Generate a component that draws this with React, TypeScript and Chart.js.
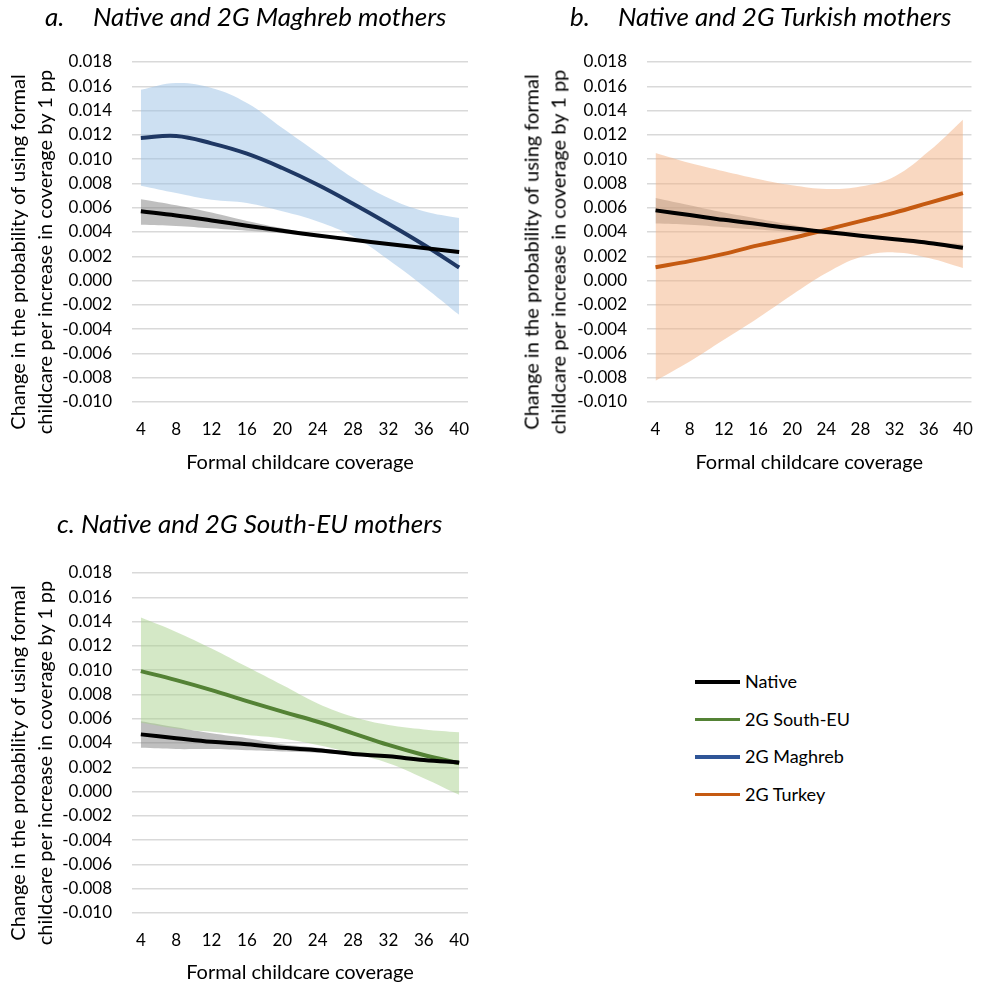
import React, { useEffect, useRef } from "react";
import { Chart, registerables } from "chart.js";

Chart.register(...registerables);

const FONT = "Lato, 'Open Sans', sans-serif";

// x categories (formal childcare coverage) and tick values
const coverage = [4, 8, 12, 16, 20, 24, 28, 32, 36, 40];
const xTickValues = [4, 8, 12, 16, 20, 24, 28, 32, 36, 40];
const yTickValues = [-0.01, -0.008, -0.006, -0.004, -0.002, 0, 0.002, 0.004, 0.006, 0.008, 0.01, 0.012, 0.014, 0.016, 0.018];

// Panel a: Native and 2G Maghreb
const nativeA = [0.0057, 0.00536, 0.00495, 0.00452, 0.0041, 0.00372, 0.00336, 0.00301, 0.00268, 0.00235];
const nativeAUpper = [0.0067, 0.0062, 0.0056, 0.0049, 0.0043, 0.0038, 0.0034, 0.0031, 0.0028, 0.0025];
const nativeALower = [0.0046, 0.0045, 0.0043, 0.0041, 0.0039, 0.0036, 0.0033, 0.0029, 0.0026, 0.0022];
const maghreb = [0.01174, 0.0119, 0.0113, 0.01045, 0.00927, 0.00789, 0.00633, 0.00468, 0.00295, 0.00108];
const maghrebUpper = [0.01572, 0.01627, 0.01586, 0.01462, 0.01256, 0.0105, 0.00844, 0.0068, 0.00571, 0.00515];
const maghrebLower = [0.00781, 0.00721, 0.00666, 0.00639, 0.0057, 0.00487, 0.00364, 0.00171, -0.00048, -0.00282];

// Panel b: Native and 2G Turkish
const nativeB = [0.00578, 0.0054, 0.005, 0.00465, 0.0043, 0.004, 0.0037, 0.0034, 0.0031, 0.0027];
const nativeBUpper = [0.0068, 0.0062, 0.0056, 0.0051, 0.0046, 0.0041, 0.0038, 0.0035, 0.0032, 0.003];
const nativeBLower = [0.0047, 0.0046, 0.0044, 0.0042, 0.004, 0.0038, 0.0036, 0.0033, 0.003, 0.0025];
const turkey = [0.0011, 0.0016, 0.0022, 0.0029, 0.0035, 0.0042, 0.0049, 0.0056, 0.0064, 0.0072];
const turkeyUpper = [0.0105, 0.00968, 0.009, 0.00836, 0.00784, 0.00754, 0.00775, 0.00858, 0.01064, 0.01325];
const turkeyLower = [-0.00825, -0.00666, -0.00488, -0.00309, -0.00117, 0.00062, 0.00194, 0.00232, 0.00186, 0.00103];

// Panel c: Native and 2G South-EU
const nativeC = [0.00471, 0.0044, 0.0041, 0.0039, 0.0036, 0.0034, 0.0031, 0.0029, 0.0026, 0.0024];
const nativeCUpper = [0.0058, 0.0053, 0.0048, 0.0044, 0.0039, 0.0036, 0.0032, 0.0029, 0.0027, 0.0025];
const nativeCLower = [0.0036, 0.0035, 0.0035, 0.0034, 0.0033, 0.0032, 0.003, 0.0028, 0.0025, 0.0022];
const southEU = [0.00992, 0.00918, 0.00836, 0.00745, 0.00658, 0.00575, 0.0048, 0.00384, 0.00301, 0.00233];
const southEUUpper = [0.01433, 0.01315, 0.01178, 0.01027, 0.00877, 0.00726, 0.00616, 0.00548, 0.00512, 0.00488];
const southEULower = [0.00567, 0.0052, 0.00493, 0.00466, 0.00438, 0.00384, 0.00315, 0.00233, 0.0011, -0.00027];

const yTitleLines = ["Change in the probability of using formal", "childcare per increase in coverage by 1 pp"];
const xTitle = "Formal childcare coverage";

const legendItems = [
  { label: "Native", color: "#000000" },
  { label: "2G South-EU", color: "#548235" },
  { label: "2G Maghreb", color: "#2F5597" },
  { label: "2G Turkey", color: "#C55A11" },
];

type PanelProps = {
  left: number; top: number; width: number; height: number;
  padTop: number; padBottom: number; padRight: number;
  yAxisWidth: number; xAxisHeight: number; xTitlePadBottom: number;
  native: number[]; nativeUp: number[]; nativeLow: number[];
  group: number[]; groupUp: number[]; groupLow: number[];
  groupLabel: string; lineColor: string; bandColor: string;
};

function Panel(p: PanelProps) {
  const ref = useRef<HTMLCanvasElement>(null);
  useEffect(() => {
    if (!ref.current) return;
    const pts = (arr: number[]) => coverage.map((x, i) => ({ x, y: arr[i] }));
    const band = { borderWidth: 0, borderColor: "transparent", pointRadius: 0, tension: 0.4 };
    const chart = new Chart(ref.current, {
      type: "line",
      data: {
        datasets: [
          { label: "Native", data: pts(p.native), borderColor: "#000000", borderWidth: 4, pointRadius: 0, tension: 0.4, fill: false, order: 1 },
          { label: p.groupLabel, data: pts(p.group), borderColor: p.lineColor, borderWidth: 4, pointRadius: 0, tension: 0.4, fill: false, order: 2 },
          { label: "upper", data: pts(p.groupUp), ...band, backgroundColor: p.bandColor, fill: "+1", order: 3 },
          { label: "lower", data: pts(p.groupLow), ...band, fill: false, order: 3 },
          { label: "nupper", data: pts(p.nativeUp), ...band, backgroundColor: "rgba(128,128,128,0.5)", fill: "+1", order: 5 },
          { label: "nlower", data: pts(p.nativeLow), ...band, fill: false, order: 5 },
        ] as any,
      },
      options: {
        responsive: false,
        animation: false,
        layout: { padding: { top: p.padTop, bottom: p.padBottom, left: 0, right: p.padRight } },
        plugins: { legend: { display: false }, tooltip: { enabled: false }, title: { display: false } },
        scales: {
          x: {
            type: "linear",
            min: 3,
            max: 41,
            grid: { display: false, drawTicks: false },
            border: { display: false },
            afterBuildTicks: (s: any) => { s.ticks = xTickValues.map((v) => ({ value: v })); },
            afterFit: (s: any) => { s.height = p.xAxisHeight; },
            ticks: { font: { family: FONT, size: 17 }, color: "#000", padding: 17, maxRotation: 0, autoSkip: false, callback: (v: any) => String(v) },
            title: { display: true, text: xTitle, font: { family: FONT, size: 20 }, color: "#000", padding: { top: 0, bottom: p.xTitlePadBottom } },
          },
          y: {
            type: "linear",
            min: -0.01,
            max: 0.018,
            border: { display: false },
            grid: { color: "#d9d9d9", lineWidth: 1.5, drawTicks: false },
            afterBuildTicks: (s: any) => { s.ticks = yTickValues.map((v) => ({ value: v })); },
            afterFit: (s: any) => { s.width = p.yAxisWidth; },
            ticks: { font: { family: FONT, size: 17 }, color: "#000", padding: 20, callback: (v: any) => Number(v).toFixed(3) },
            title: { display: false },
          },
        },
      } as any,
    });
    return () => chart.destroy();
  }, []);
  return (
    <canvas
      ref={ref}
      width={p.width}
      height={p.height}
      style={{ position: "absolute", left: p.left, top: p.top, width: p.width, height: p.height }}
    />
  );
}

function YTitle({ cx, cy }: { cx: number; cy: number }) {
  return (
    <div
      style={{
        position: "absolute", left: cx, top: cy, transform: "translate(-50%,-50%) rotate(-90deg)",
        whiteSpace: "nowrap", textAlign: "center", lineHeight: "26.5px", fontSize: 20, fontFamily: FONT, color: "#000",
      }}
    >
      {yTitleLines[0]}
      <br />
      {yTitleLines[1]}
    </div>
  );
}

const titleStyle: React.CSSProperties = {
  position: "absolute", fontFamily: FONT, fontStyle: "italic", fontSize: 26, lineHeight: "26px", whiteSpace: "nowrap", color: "#000",
};

export default function App() {
  return (
    <div style={{ position: "absolute", left: 0, top: 0, width: 993, height: 985, overflow: "hidden", background: "#fff" }}>
      <Panel left={0} top={0} width={493} height={485} padTop={62} padBottom={8} padRight={25}
        yAxisWidth={132} xAxisHeight={75} xTitlePadBottom={2}
        native={nativeA} nativeUp={nativeAUpper} nativeLow={nativeALower}
        group={maghreb} groupUp={maghrebUpper} groupLow={maghrebLower}
        groupLabel="2G Maghreb" lineColor="#1F3864" bandColor="rgba(155,194,230,0.5)" />
      <Panel left={500} top={0} width={490} height={485} padTop={62} padBottom={8} padRight={8}
        yAxisWidth={147} xAxisHeight={75} xTitlePadBottom={2}
        native={nativeB} nativeUp={nativeBUpper} nativeLow={nativeBLower}
        group={turkey} groupUp={turkeyUpper} groupLow={turkeyLower}
        groupLabel="2G Turkey" lineColor="#C55A11" bandColor="rgba(244,177,131,0.5)" />
      <Panel left={0} top={500} width={493} height={485} padTop={73} padBottom={0} padRight={25}
        yAxisWidth={132} xAxisHeight={72} xTitlePadBottom={0}
        native={nativeC} nativeUp={nativeCUpper} nativeLow={nativeCLower}
        group={southEU} groupUp={southEUUpper} groupLow={southEULower}
        groupLabel="2G South-EU" lineColor="#548235" bandColor="rgba(169,209,142,0.5)" />

      <YTitle cx={30.25} cy={252} />
      <YTitle cx={543.5} cy={252} />
      <YTitle cx={30.25} cy={762.5} />

      <div style={{ ...titleStyle, left: 45, top: 3 }}>a.</div>
      <div style={{ ...titleStyle, left: 93, top: 3 }}>Native and 2G Maghreb mothers</div>
      <div style={{ ...titleStyle, left: 570, top: 3 }}>b.</div>
      <div style={{ ...titleStyle, left: 618, top: 3 }}>Native and 2G Turkish mothers</div>
      <div style={{ ...titleStyle, left: 57, top: 510 }}>c. Native and 2G South-EU mothers</div>

      {legendItems.map((it, i) => {
        const y = 682 + i * 37.5;
        return (
          <React.Fragment key={it.label}>
            <div style={{ position: "absolute", left: 695, top: y - 1.75, width: 45, height: 3.5, background: it.color }} />
            <div style={{ position: "absolute", left: 745, top: y - 10, fontFamily: FONT, fontSize: 18, lineHeight: "18px", whiteSpace: "nowrap", color: "#000" }}>
              {it.label}
            </div>
          </React.Fragment>
        );
      })}
    </div>
  );
}
